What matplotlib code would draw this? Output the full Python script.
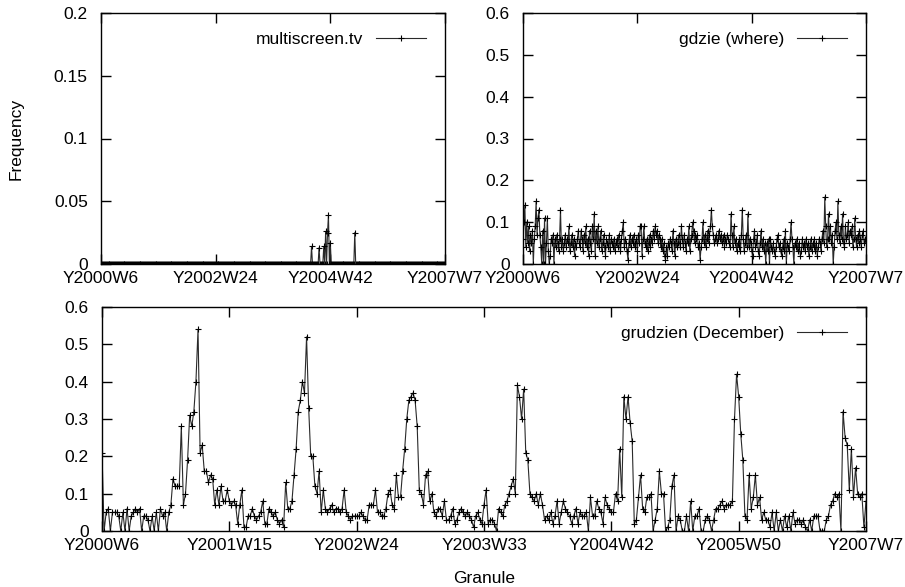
import numpy as np
import matplotlib
matplotlib.use("Agg")
import matplotlib.pyplot as plt
from matplotlib.ticker import FuncFormatter, FixedLocator

plt.rcParams['font.family'] = ['Liberation Sans', 'DejaVu Sans']

# ---------------- data ----------------
n_weeks = 367
tick_labels_top = ["Y2000W6", "Y2002W24", "Y2004W42", "Y2007W7"]
tick_pos_top = [0, 122, 244, 366]
tick_labels_bottom = ["Y2000W6", "Y2001W15", "Y2002W24", "Y2003W33",
                      "Y2004W42", "Y2005W50", "Y2007W7"]
tick_pos_bottom = [0, 61, 122, 183, 244, 305, 366]

# multiscreen.tv: zero everywhere except these weeks
multiscreen_weeks = [224, 232, 237, 239, 241, 242, 244, 270]
multiscreen_vals = [0.014, 0.013, 0.014, 0.026, 0.025, 0.039, 0.017, 0.025]

gdzie = [
    0.06,0.10,0.14,0.04,0.10,0.05,0.09,0.03,0.07,0.05, 0.08,0.00,0.06,0.09,0.15,0.07,0.11,0.13,0.07,0.04,
    0.00,0.08,0.00,0.11,0.00,0.05,0.11,0.03,0.00,0.02, 0.06,0.05,0.07,0.00,0.06,0.04,0.07,0.05,0.03,0.06,
    0.13,0.04,0.06,0.03,0.05,0.07,0.04,0.06,0.05,0.09, 0.03,0.05,0.07,0.04,0.06,0.02,0.05,0.04,0.06,0.08,
    0.05,0.04,0.08,0.06,0.03,0.07,0.05,0.09,0.04,0.06, 0.02,0.08,0.05,0.03,0.09,0.06,0.12,0.02,0.08,0.05,
    0.09,0.04,0.06,0.08,0.03,0.05,0.07,0.04,0.02,0.06, 0.05,0.04,0.07,0.03,0.06,0.05,0.04,0.06,0.03,0.05,
    0.06,0.04,0.07,0.05,0.03,0.06,0.08,0.10,0.04,0.06, 0.05,0.03,0.01,0.05,0.07,0.04,0.06,0.05,0.07,0.04,
    0.05,0.06,0.03,0.07,0.05,0.09,0.09,0.02,0.06,0.09, 0.05,0.04,0.06,0.03,0.05,0.07,0.04,0.06,0.05,0.08,
    0.06,0.09,0.07,0.08,0.05,0.07,0.06,0.04,0.06,0.03, 0.05,0.02,0.01,0.04,0.02,0.05,0.04,0.06,0.05,0.03,
    0.08,0.05,0.02,0.06,0.04,0.05,0.07,0.05,0.04,0.09, 0.06,0.04,0.07,0.05,0.03,0.06,0.05,0.09,0.03,0.06,
    0.07,0.10,0.08,0.05,0.07,0.06,0.07,0.04,0.05,0.01, 0.04,0.06,0.10,0.05,0.07,0.04,0.06,0.08,0.05,0.07,
    0.09,0.13,0.09,0.07,0.05,0.06,0.07,0.05,0.06,0.08, 0.06,0.07,0.05,0.06,0.07,0.04,0.06,0.05,0.07,0.06,
    0.05,0.04,0.12,0.07,0.04,0.09,0.05,0.06,0.03,0.05, 0.04,0.06,0.03,0.07,0.13,0.06,0.03,0.05,0.07,0.04,
    0.12,0.04,0.06,0.05,0.03,0.02,0.06,0.08,0.04,0.05, 0.07,0.03,0.02,0.05,0.08,0.04,0.06,0.03,0.05,0.00,
    0.05,0.03,0.06,0.00,0.06,0.04,0.03,0.05,0.03,0.02, 0.04,0.06,0.07,0.04,0.05,0.03,0.02,0.04,0.06,0.03,
    0.08,0.00,0.05,0.04,0.03,0.06,0.10,0.06,0.04,0.00, 0.05,0.04,0.06,0.03,0.05,0.04,0.02,0.03,0.06,0.04,
    0.05,0.03,0.06,0.04,0.05,0.02,0.04,0.06,0.03,0.05, 0.04,0.06,0.03,0.05,0.02,0.04,0.06,0.05,0.03,0.06,
    0.08,0.05,0.16,0.09,0.04,0.06,0.12,0.06,0.09,0.05, 0.07,0.00,0.04,0.08,0.10,0.06,0.15,0.07,0.05,0.09,
    0.06,0.12,0.05,0.04,0.09,0.06,0.07,0.10,0.05,0.08, 0.07,0.09,0.04,0.06,0.11,0.06,0.04,0.07,0.05,0.08,
    0.06,0.04,0.07,0.08,0.05,0.06,0.05,
]

grudzien = [
    # 2000
    0.21,0.00,0.05,0.06,0.00,0.05,0.05,0.05,0.04,0.00,
    0.05,0.00,0.06,0.00,0.04,0.05,0.06,0.05,0.06,0.00,
    0.04,0.04,0.03,0.00,0.04,0.00,0.05,0.00,0.06,0.04,
    0.05,0.00,0.05,0.07,0.14,0.12,0.12,0.12,0.28,0.07,
    0.10,0.19,0.31,0.28,0.32,0.40,0.54,
    # 2001
    0.21,0.23,0.16,0.16,0.13,0.15,0.14,0.07,0.11,0.07,
    0.12,0.08,0.08,0.11,0.08,0.07,0.08,0.07,0.02,0.07,
    0.11,0.01,0.01,0.04,0.04,0.06,0.04,0.03,0.04,0.05,
    0.08,0.02,0.02,0.06,0.05,0.04,0.05,0.03,0.02,0.03,
    0.01,0.13,
    0.06,0.06,0.08,0.15,0.22,0.32,0.35,0.40,0.37,0.52,
    0.33,0.20,0.20,0.12,0.10,0.16,0.05,0.11,0.06,0.05,
    0.06,0.07,0.05,0.06,0.06,0.05,0.06,0.11,0.05,0.04,
    0.03,0.04,0.04,
    # 2002
    0.04,0.04,0.05,0.04,0.03,0.03,0.07,0.07,0.07,0.11,
    0.05,0.05,0.04,0.04,0.06,0.10,0.11,0.07,0.06,0.15,
    0.09,0.09,0.16,0.22,0.30,0.35,0.36,0.37,
    0.35,0.28,0.11,0.10,0.07,0.15,0.16,0.08,0.10,0.05,
    0.04,0.06,0.06,0.04,0.08,0.03,0.03,0.04,0.06,
    0.02,0.03,0.05,0.06,0.05,0.04,0.05,0.04,0.03,
    0.01,0.04,0.05,0.03,0.02,
    # 2003
    0.07,0.11,0.02,0.03,0.03,0.02,0.00,0.06,0.05,0.04,
    0.07,0.08,0.10,0.12,0.14,0.10,0.39,0.36,0.30,0.38,
    0.21,0.19,0.10,0.09,0.08,0.10,0.07,0.10,0.07,0.03,
    0.04,0.03,0.05,0.02,0.04,0.08,0.02,0.05,0.08,0.06,
    0.05,0.04,0.02,0.04,0.06,0.02,0.05,0.04,0.04,0.05,
    0.00,0.09,0.04,0.04,0.08,0.06,0.05,0.02,0.09,0.07,
    0.06,
    # 2004
    0.05,0.05,0.10,0.08,0.22,0.09,0.36,0.30,0.36,0.29,
    0.24,0.02,0.03,0.09,0.15,0.06,0.05,0.09,0.09,0.10,
    0.00,0.03,0.06,0.16,0.10,0.10,0.00,0.01,0.03,0.12,
    0.15,0.00,0.04,0.03,0.00,0.00,0.04,0.00,0.08,0.00,
    0.04,0.04,0.06,0.00,0.00,0.03,0.04,0.03,0.00,0.03,
    0.06,0.06,0.07,0.08,0.06,0.07,0.07,0.07,0.08,0.30,
    0.42,
    # 2005-2006
    0.36,0.26,0.19,
    0.04,0.03,0.15,0.06,0.09,0.15,0.07,0.09,0.03,0.05,
    0.03,0.03,0.01,0.05,0.00,0.05,0.00,0.03,0.00,0.04,
    0.01,0.04,0.00,0.05,0.02,0.03,0.03,0.02,0.03,0.01,
    0.00,0.03,0.00,0.04,0.04,0.04,0.00,0.00,0.00,0.03,
    0.04,0.07,0.08,0.10,0.09,0.10,0.00,
    0.32,0.25,0.23,0.11,0.22,0.09,0.17,0.10,0.09,0.10,0.01,0.08,
]

weeks = np.arange(n_weeks)
multiscreen = np.zeros(n_weeks)
multiscreen[multiscreen_weeks] = multiscreen_vals

# ---------------- drawing ----------------
W, H = 905, 587
fig = plt.figure(figsize=(W / 100, H / 100), dpi=100)

def px_axes(l, r, t, b):
    return fig.add_axes([l / W, (H - b) / H, (r - l) / W, (b - t) / H])

ax1 = px_axes(101, 445, 13, 264)
ax2 = px_axes(523, 866, 13, 264)
ax3 = px_axes(102, 866, 307, 531)

FS = 12.5
line_kw = dict(color='#2a2a2a', lw=0.8, marker='+', ms=5, mew=0.8,
               mec='black')

fmt = FuncFormatter(lambda v, p: ('%g' % round(v, 4)))

def style(ax, ymax, ystep, tpos, tlabels):
    ax.set_xlim(0, n_weeks - 1)
    ax.set_ylim(0, ymax)
    ax.xaxis.set_major_locator(FixedLocator(tpos))
    ax.set_xticklabels(tlabels)
    ax.set_yticks(np.arange(0, ymax + ystep / 2, ystep))
    ax.yaxis.set_major_formatter(fmt)
    ax.tick_params(direction='in', length=7, width=1, top=True, right=True,
                   labelsize=FS)
    ax.tick_params(axis='x', pad=5)
    ax.tick_params(axis='y', pad=9.5)
    for s in ax.spines.values():
        s.set_linewidth(1.0)
    ax.legend(loc='upper right', frameon=False, fontsize=FS, markerfirst=False,
              handlelength=2.9, handletextpad=0.7, borderaxespad=0.7,
              numpoints=1)

ax1.plot(weeks, multiscreen, label='multiscreen.tv', **line_kw)
style(ax1, 0.2, 0.05, tick_pos_top, tick_labels_top)
ax1.set_ylabel('Frequency', fontsize=FS, labelpad=22)

ax2.plot(weeks, gdzie, label='gdzie (where)', **line_kw)
style(ax2, 0.6, 0.1, tick_pos_top, tick_labels_top)

ax3.plot(weeks, grudzien, label='grudzien (December)', **line_kw)
style(ax3, 0.6, 0.1, tick_pos_bottom, tick_labels_bottom)
ax3.set_xlabel('Granule', fontsize=FS, labelpad=13)

fig.savefig('out.png', dpi=100)
